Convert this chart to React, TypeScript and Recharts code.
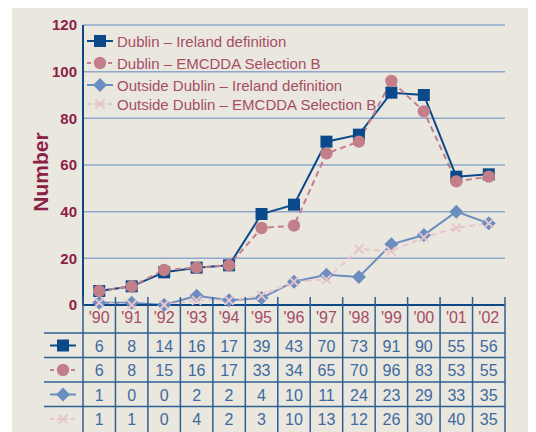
import React from 'react';
import { LineChart, Line, XAxis, YAxis, CartesianGrid, Legend } from 'recharts';

const years = ["'90", "'91", "'92", "'93", "'94", "'95", "'96", "'97", "'98", "'99", "'00", "'01", "'02"];
const dublinIreland = [6, 8, 14, 16, 17, 39, 43, 70, 73, 91, 90, 55, 56];
const dublinEmcdda = [6, 8, 15, 16, 17, 33, 34, 65, 70, 96, 83, 53, 55];
const outsideIreland = [1, 1, 0, 4, 2, 3, 10, 13, 12, 26, 30, 40, 35];
const outsideEmcdda = [1, 0, 0, 2, 2, 4, 10, 11, 24, 23, 29, 33, 35];
const yTicks = [0, 20, 40, 60, 80, 100, 120];

const data = years.map((year, i) => ({
  year,
  dublinIreland: dublinIreland[i],
  dublinEmcdda: dublinEmcdda[i],
  outsideIreland: outsideIreland[i],
  outsideEmcdda: outsideEmcdda[i],
}));

type MarkerType = 'square' | 'circle' | 'diamond' | 'cross';
interface SeriesCfg { key: string; name: string; color: string; dash?: string; marker: MarkerType; }

const S_DI: SeriesCfg = { key: 'dublinIreland', name: 'Dublin – Ireland definition', color: '#0b4a8a', marker: 'square' };
const S_DE: SeriesCfg = { key: 'dublinEmcdda', name: 'Dublin – EMCDDA Selection B', color: '#c27f89', dash: '6 4', marker: 'circle' };
const S_OI: SeriesCfg = { key: 'outsideIreland', name: 'Outside Dublin – Ireland definition', color: '#6c8dbf', marker: 'diamond' };
const S_OE: SeriesCfg = { key: 'outsideEmcdda', name: 'Outside Dublin – EMCDDA Selection B', color: '#e8c6cd', dash: '6 4', marker: 'cross' };

const drawOrder = [S_OI, S_OE, S_DI, S_DE];
const legendOrder = [S_DI, S_DE, S_OI, S_OE];
const LEGEND_ROW_Y = [11, 33, 55, 74];
// table rows as shown in the reference (icon + values)
const tableRows: { icon: SeriesCfg; values: number[] }[] = [
  { icon: S_DI, values: dublinIreland },
  { icon: S_DE, values: dublinEmcdda },
  { icon: S_OI, values: outsideEmcdda },
  { icon: S_OE, values: outsideIreland },
];

const FONT = '"Liberation Sans", Arial, sans-serif';
const AXIS = '#0d4785';
const GRID = '#8fa7cb';
const TICK_RED = '#8c2146';
const LEGEND_TXT = '#a64d66';
const TABLE_LINE = '#2f5f95';
const TABLE_NUM = '#3d6aa0';
const HEADER_TXT = '#a64d66';

const CHART_W = 524;
const CHART_H = 424;
const MARGIN = { top: 17, right: 31, left: 21, bottom: 0 };
const Y_W = 50;
const X_H = 127;
const PLOT_W = CHART_W - MARGIN.left - MARGIN.right - Y_W;
const COL_W = PLOT_W / years.length;

function Marker({ type, x, y, color }: { type: MarkerType; x: number; y: number; color: string }) {
  switch (type) {
    case 'square':
      return <rect x={x - 6} y={y - 6} width={12} height={12} fill={color} />;
    case 'circle':
      return <circle cx={x} cy={y} r={6.2} fill={color} />;
    case 'diamond':
      return <polygon points={`${x},${y - 7} ${x + 7},${y} ${x},${y + 7} ${x - 7},${y}`} fill={color} />;
    case 'cross':
      return (
        <g stroke={color} strokeWidth={2}>
          <line x1={x - 4.5} y1={y - 4.5} x2={x + 4.5} y2={y + 4.5} />
          <line x1={x - 4.5} y1={y + 4.5} x2={x + 4.5} y2={y - 4.5} />
        </g>
      );
  }
  return null;
}

function Icon({ s, cx, cy }: { s: SeriesCfg; cx: number; cy: number }) {
  return (
    <g>
      <line x1={cx - 13} x2={cx + 13} y1={cy} y2={cy} stroke={s.color} strokeWidth={2} strokeDasharray={s.dash ? '4 3' : undefined} />
      <Marker type={s.marker} x={cx} y={cy} color={s.color} />
    </g>
  );
}

const ROW_LINES = [28, 52.5, 77, 101.5];

function TableTick(props: any) {
  const { x, y, index } = props;
  const left = x - COL_W / 2;
  const right = x + COL_W / 2;
  const last = index === years.length - 1;
  return (
    <g>
      <line x1={left} x2={left} y1={y - 8} y2={y + 135} stroke={TABLE_LINE} strokeWidth={1.5} />
      {last && <line x1={right} x2={right} y1={y - 8} y2={y + 135} stroke={TABLE_LINE} strokeWidth={1.5} />}
      <text x={x} y={y + 12} textAnchor="middle" dominantBaseline="central" fill={HEADER_TXT} fontSize={16} fontFamily={FONT}>
        {years[index]}
      </text>
      {ROW_LINES.map((o, k) => (
        <line key={k} x1={left} x2={right} y1={y + o} y2={y + o} stroke={TABLE_LINE} strokeWidth={1.5} />
      ))}
      {tableRows.map((r, k) => (
        <text key={k} x={x} y={y + 41 + k * 24.5} textAnchor="middle" dominantBaseline="central" fill={TABLE_NUM} fontSize={16} fontFamily={FONT}>
          {r.values[index]}
        </text>
      ))}
      {index === 0 && (
        <g>
          {ROW_LINES.map((o, k) => (
            <line key={k} x1={left - 39} x2={left} y1={y + o} y2={y + o} stroke={TABLE_LINE} strokeWidth={1.5} />
          ))}
          {tableRows.map((r, k) => (
            <Icon key={k} s={r.icon} cx={left - 20} cy={y + 40.5 + k * 24.5} />
          ))}
        </g>
      )}
    </g>
  );
}

function LegendContent() {
  return (
    <svg width={300} height={90} style={{ display: 'block', overflow: 'visible' }}>
      {legendOrder.map((s, i) => (
        <g key={s.key}>
          <Icon s={s} cx={13} cy={LEGEND_ROW_Y[i]} />
          <text x={30} y={LEGEND_ROW_Y[i]} dominantBaseline="central" fill={LEGEND_TXT} fontSize={15} fontFamily={FONT}>
            {s.name}
          </text>
        </g>
      ))}
    </svg>
  );
}

function NumberLabel(props: any) {
  const vb = props.viewBox || {};
  const x = (vb.x ?? 21) + 7;
  const y = (vb.y ?? 17) + (vb.height ?? 280) / 2 + 7;
  return (
    <text x={x} y={y} transform={`rotate(-90, ${x}, ${y})`} textAnchor="middle" dominantBaseline="central" fill={TICK_RED} fontSize={21} fontWeight="bold" fontFamily={FONT}>
      Number
    </text>
  );
}

export default function App() {
  return (
    <div style={{ marginLeft: 4, width: CHART_W, height: CHART_H, background: '#eae7df' }}>
      <LineChart width={CHART_W} height={CHART_H} data={data} margin={MARGIN} style={{ fontFamily: FONT }}>
        <CartesianGrid vertical={false} horizontal={true} stroke={GRID} strokeWidth={1.5} />
        <XAxis
          dataKey="year"
          height={X_H}
          interval={0}
          padding={{ left: COL_W / 2, right: COL_W / 2 }}
          axisLine={{ stroke: AXIS, strokeWidth: 2 }}
          tickLine={false}
          tickSize={0}
          tickMargin={0}
          tick={<TableTick />}
        />
        <YAxis
          width={Y_W}
          domain={[0, 120]}
          ticks={yTicks}
          interval={0}
          axisLine={{ stroke: AXIS, strokeWidth: 2 }}
          tickLine={false}
          tickSize={4}
          tickMargin={2}
          tick={{ fill: TICK_RED, fontSize: 15, fontWeight: 'bold', fontFamily: FONT }}
          label={<NumberLabel />}
        />
        <Legend
          layout="horizontal"
          verticalAlign="middle"
          align="center"
          wrapperStyle={{ left: 75, top: 22, width: 300, height: 90 }}
          content={() => <LegendContent />}
        />
        {drawOrder.map((s) => (
          <Line
            key={s.key}
            dataKey={s.key}
            name={s.name}
            type="linear"
            stroke={s.color}
            strokeWidth={2}
            strokeDasharray={s.dash}
            isAnimationActive={false}
            dot={(p: any) => <Marker key={`${s.key}-${p.index}`} type={s.marker} x={p.cx} y={p.cy} color={s.color} />}
            activeDot={false}
          />
        ))}
      </LineChart>
    </div>
  );
}
